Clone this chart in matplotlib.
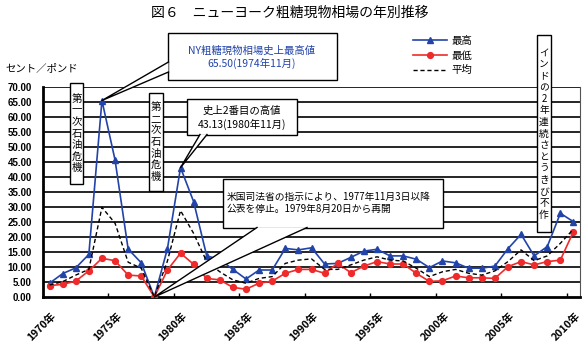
import matplotlib
matplotlib.use("Agg")
import matplotlib.pyplot as plt
from matplotlib.patches import Rectangle, Polygon
from matplotlib.lines import Line2D
from matplotlib.transforms import IdentityTransform

plt.rcParams['font.family'] = ['Noto Sans CJK JP', 'DejaVu Sans']

# data (cents/lb), 1970-2010
years = list(range(1970, 2011))
high = [4.6, 7.8, 9.7, 14.2, 65.5, 45.7, 16.0, 11.4, 0, 16.1,
        43.13, 31.8, 13.7, 12.5, 9.2, 6.0, 9.0, 9.0, 16.2, 15.7,
        16.4, 11.0, 11.2, 13.2, 15.3, 15.9, 13.7, 13.7, 12.6, 9.8,
        12.0, 11.4, 9.6, 9.6, 10.3, 16.1, 20.9, 13.7, 16.8, 27.9,
        25.1]
low = [3.8, 4.2, 5.3, 8.7, 12.9, 12.1, 7.3, 7.0, 0, 9.0,
       14.6, 10.9, 6.2, 5.7, 3.2, 2.6, 4.6, 5.3, 7.9, 9.2,
       9.2, 7.9, 11.2, 8.1, 10.3, 11.8, 11.0, 11.0, 7.9, 5.2,
       5.4, 7.0, 6.4, 6.4, 6.2, 10.1, 11.8, 10.7, 11.8, 12.3,
       21.8]
avg = [4.0, 5.1, 7.3, 9.2, 29.9, 24.6, 11.6, 9.6, 0, 12.0,
       28.8, 21.2, 11.8, 8.4, 5.7, 4.6, 6.2, 6.8, 11.2, 12.3,
       12.7, 9.2, 9.2, 10.7, 12.3, 13.4, 12.3, 12.0, 9.6, 6.8,
       8.4, 9.2, 7.9, 7.3, 8.7, 11.8, 15.7, 12.1, 13.7, 17.9,
       22.6]
yticks = list(range(0, 75, 5))

BLUE = '#2244a8'
RED = '#ee2a2a'
W, H = 584, 342
ID = IdentityTransform()

fig = plt.figure(figsize=(W / 100, H / 100), dpi=100)
ax = fig.add_axes([43 / W, 1 - 297 / H, (580 - 43) / W, (297 - 87) / H])

x = list(range(len(years)))
ax.plot(x, high, color=BLUE, lw=1.2, marker='^', ms=5, label='最高', zorder=3)
ax.plot(x, low, color=RED, lw=1.2, marker='o', ms=4.2, label='最低', zorder=3)
ax.plot(x, avg, color='black', lw=1.0, ls=(0, (3, 2)), label='平均', zorder=3)

for v in yticks[1:]:
    ax.axhline(v, color='black', lw=1.2, zorder=1)

ax.set_xlim(-0.5, len(years) - 0.5)
ax.set_ylim(0, 70)
ax.set_yticks(yticks)
ax.set_yticklabels(['%.2f' % v for v in yticks], fontsize=7, fontfamily='Liberation Sans', fontweight='bold')
ax.tick_params(axis='y', length=0, pad=8)
ax.set_xticks([i - 0.5 for i in range(5, len(years), 5)])
ax.set_xticklabels([])
ax.tick_params(axis='x', direction='in', length=3, width=1)
for i, yr in enumerate(years):
    if yr % 5 == 0:
        ax.text(i + 0.1, -0.065, '%d年' % yr, transform=ax.get_xaxis_transform(),
                rotation=45, ha='right', va='top', rotation_mode='anchor',
                fontsize=7.5, fontweight='bold')

ax.spines['left'].set_linewidth(2)
ax.spines['bottom'].set_linewidth(2)
ax.spines['right'].set_color('#555555')
ax.spines['right'].set_linewidth(0.8)
ax.spines['top'].set_visible(False)

fig.text(290 / W, 1 - 13 / H, '図６　ニューヨーク粗糖現物相場の年別推移', ha='center', va='center', fontsize=10)
fig.text(5 / W, 1 - 68 / H, 'セント／ポンド', ha='left', va='center', fontsize=7.5)

ax.legend(loc='upper left', bbox_to_anchor=(413 / W, 1 - 36 / H), bbox_transform=fig.transFigure,
          frameon=False, fontsize=7.5, handlelength=3.3, handletextpad=0.4,
          labelspacing=0.45, borderpad=0, borderaxespad=0)


def pix(px, py):
    return (px, H - py)


def box(x0, y0, x1, y1):
    fig.add_artist(Rectangle(pix(x0, y1), x1 - x0, y1 - y0, transform=ID,
                             fc='white', ec='black', lw=1.0, zorder=10))


def callout(x0, y0, x1, y1, b1, b2, tip):
    box(x0, y0, x1, y1)
    t = ax.transData.transform(tip)
    p1, p2 = pix(*b1), pix(*b2)
    fig.add_artist(Polygon([p1, t, p2], closed=True, transform=ID, fc='white', ec='none', zorder=11))
    fig.add_artist(Line2D([p1[0], t[0], p2[0]], [p1[1], t[1], p2[1]], transform=ID,
                          color='black', lw=1.0, zorder=12))


def vbox(x0, y0, x1, y1, s, size=7.5):
    box(x0, y0, x1, y1)
    fig.text((x0 + x1) / 2, H - (y0 + y1) / 2, '\n'.join(s), transform=ID,
             ha='center', va='center', fontsize=size, linespacing=1.2, zorder=13)


i74 = years.index(1974)
i78 = years.index(1978)
i80 = years.index(1980)

callout(168, 33, 337, 80, (168.5, 62), (168.5, 72), (i74, high[i74]))
fig.text(252, H - 57, 'NY粗糖現物相場史上最高値\n65.50(1974年11月)', transform=ID, ha='center', va='center',
         fontsize=7.5, color=BLUE, linespacing=1.2, zorder=13)

callout(187, 99, 297, 135, (200, 134.5), (207, 134.5), (i80, high[i80]))
fig.text(242, H - 118, '史上2番目の高値\n43.13(1980年11月)', transform=ID, ha='center', va='center',
         fontsize=7.5, linespacing=1.25, zorder=13)

callout(223, 179, 443, 228, (257, 227.5), (307, 227.5), (i78, high[i78]))
fig.text(227, H - 203, '米国司法省の指示により、1977年11月3日以降\n公表を停止。1979年8月20日から再開',
         transform=ID, ha='left', va='center', fontsize=7, linespacing=1.35, zorder=13)

vbox(70, 83, 83, 184, '第一次石油危機')
vbox(149, 93, 163, 191, '第二次石油危機')
vbox(537, 35, 551, 232, 'インドの2年連続さとうきび不作', size=7)

fig.savefig('out.png', dpi=100)
